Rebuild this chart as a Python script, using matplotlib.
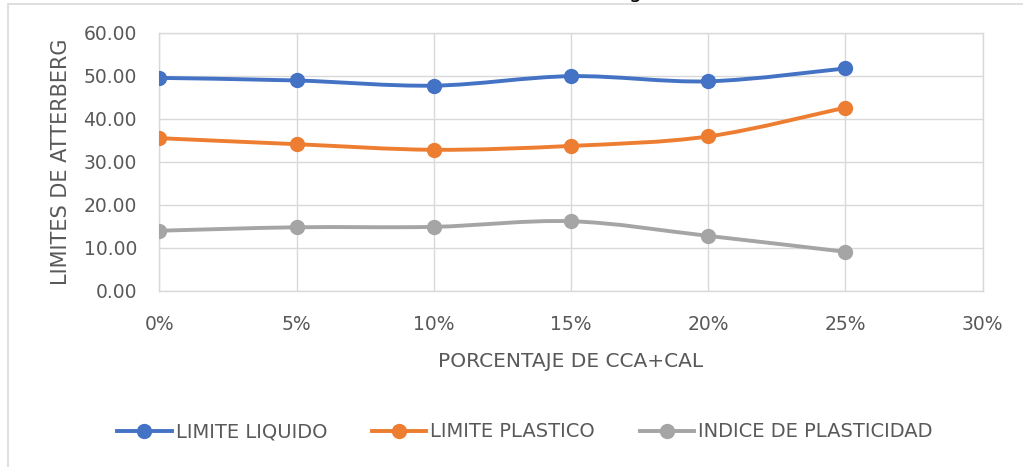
import numpy as np
import matplotlib.pyplot as plt
from matplotlib.path import Path
from matplotlib.patches import PathPatch, Rectangle
from matplotlib.lines import Line2D

# porcentaje de CCA+CAL (%)
porcentaje = [0, 5, 10, 15, 20, 25]
limite_liquido = [49.5, 48.9, 47.7, 49.9, 48.7, 51.7]
limite_plastico = [35.5, 34.1, 32.8, 33.7, 35.9, 42.6]
indice_plasticidad = [14.0, 14.8, 14.9, 16.2, 12.8, 9.1]

series = ['LIMITE LIQUIDO', 'LIMITE PLASTICO', 'INDICE DE PLASTICIDAD']
colores = ['#4472C4', '#ED7D31', '#A5A5A5']
x_ticks = [0, 5, 10, 15, 20, 25, 30]
y_ticks = [0, 10, 20, 30, 40, 50, 60]

txt = '#595959'
grid = '#D9D9D9'


def smooth_path(x, y):
    # bezier segments like the smoothed lines of a spreadsheet chart
    pts = np.column_stack([x, y]).astype(float)
    n = len(pts)
    verts = [pts[0]]
    codes = [Path.MOVETO]
    for i in range(n - 1):
        p0 = pts[i - 1] if i > 0 else pts[i]
        p1 = pts[i]
        p2 = pts[i + 1]
        p3 = pts[i + 2] if i + 2 < n else pts[i + 1]
        c1 = p1 + (p2 - p0) / 6.0
        c2 = p2 - (p3 - p1) / 6.0
        verts += [c1, c2, p2]
        codes += [Path.CURVE4] * 3
    return Path(verts, codes)


fig = plt.figure(figsize=(10.23, 4.67), dpi=100)
ax = fig.add_axes([0.1557, 0.3769, 0.8049, 0.5531])

for vals, name, c in zip([limite_liquido, limite_plastico, indice_plasticidad], series, colores):
    ax.add_patch(PathPatch(smooth_path(porcentaje, vals), facecolor='none',
                           edgecolor=c, lw=2.8, capstyle='round', zorder=3))
    ax.plot(porcentaje, vals, linestyle='none', marker='o', markersize=10,
            color=c, zorder=4)

ax.set_xlim(0, 30)
ax.set_ylim(0, 60)
ax.set_xticks(x_ticks)
ax.set_xticklabels([f'{v}%' for v in x_ticks])
ax.set_yticks(y_ticks)
ax.set_yticklabels([f'{v:.2f}' for v in y_ticks])
ax.grid(True, color=grid, lw=1.0, zorder=0)
ax.set_axisbelow(True)
for s in ax.spines.values():
    s.set_color(grid)
    s.set_linewidth(1.0)
ax.tick_params(length=0, labelsize=13.5, labelcolor=txt)
ax.tick_params(axis='x', pad=17)
ax.tick_params(axis='y', pad=16)

ax.set_xlabel('PORCENTAJE DE CCA+CAL', fontsize=14.5, color=txt, labelpad=13)
ax.set_ylabel('LIMITES DE ATTERBERG', fontsize=15, color=txt, labelpad=9)

# title sits above the top edge, only its tail shows
fig.text(0.628, 1.0 + 1.5 / 467, 'Límites de Atterberg', ha='right', va='baseline',
         fontsize=15, color='black')

# chart area frame
fig.patches.append(Rectangle((8 / 1023, -0.1), 1.2, 1.1 - 4 / 467, transform=fig.transFigure,
                             fill=False, edgecolor=grid, lw=1.2))

handles = [Line2D([], [], color=c, lw=2.8, marker='o', markersize=10) for c in colores]
fig.legend(handles, series, loc='center', bbox_to_anchor=(0.513, 0.075), ncol=3,
           frameon=False, fontsize=14, labelcolor=txt, handlelength=2.8,
           handletextpad=0.2, columnspacing=2.3)

fig.savefig('out.png', dpi=100)
